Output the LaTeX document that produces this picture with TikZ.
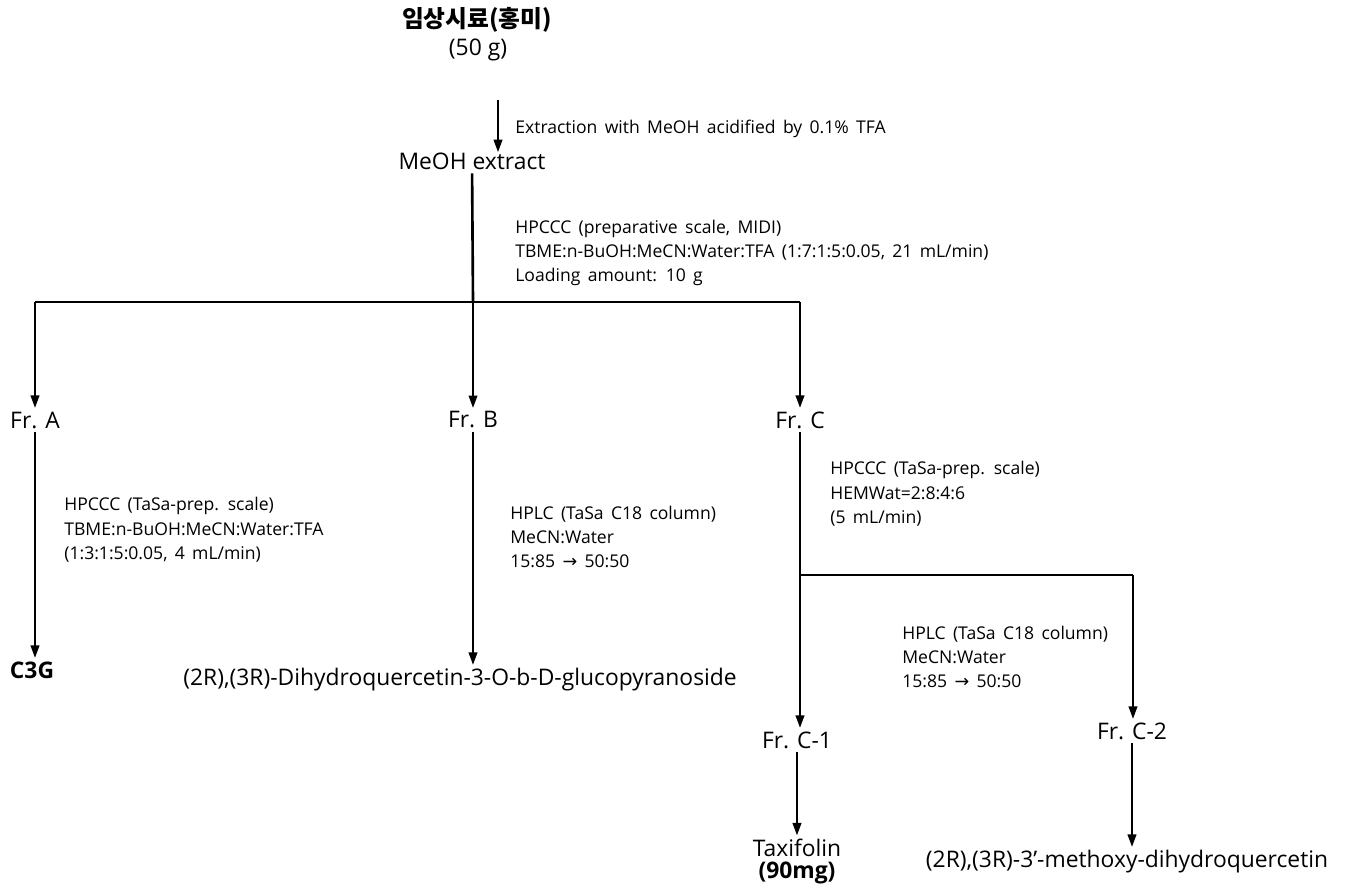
\documentclass[tikz,border=0pt]{standalone}
\usepackage{fontspec}
\setmainfont{Open Sans}
\newfontfamily\krfont{Noto Sans CJK KR}
\newfontfamily\notefont[WordSpace=1.6]{Open Sans}
\newfontfamily\symfont{DejaVu Sans}
\usetikzlibrary{arrows.meta, positioning}
\tikzstyle{frac} = [inner sep=2pt, font=\fontsize{13}{15}\selectfont]
\tikzstyle{note} = [inner sep=0pt, anchor=west, align=left, font=\notefont\fontsize{10}{13.9}\selectfont]
\tikzstyle{arrow} = [line width=0.75pt, -{Triangle[length=7pt,width=5pt]}]
\tikzstyle{branch} = [line width=0.75pt]
\tikzstyle{trunk} = [line width=1.5pt]

\begin{document}
\begin{tikzpicture}[x=0.02cm, y=-0.02cm]
    \useasboundingbox (0,0) rectangle (1349,893);

    % Starting material
    \node (sample) [frac] at (477,20) {\krfont\bfseries\fontsize{13.5}{16}\selectfont 임상시료(홍미)};
    \node (amount) [frac] at (478,50) {(50 g)};
    \node (extract) [frac] at (472,161) {MeOH extract};

    % Junctions
    \coordinate (exttop) at (498,100);
    \coordinate (extend) at (498,152);
    \coordinate (split) at (473,302);
    \coordinate (splitA) at (35,302);
    \coordinate (splitC) at (800,302);
    \coordinate (splitC1) at (800,575);
    \coordinate (splitC2) at (1133,575);

    % Fractions
    \node (frA) [frac] at (35,420) {Fr. A};
    \node (frB) [frac] at (473,420) {Fr. B};
    \node (frC) [frac] at (800,420) {Fr. C};
    \node (frC1) [frac] at (797,740) {Fr. C-1};
    \node (frC2) [frac] at (1132,731) {Fr. C-2};

    % Compounds
    \node (c3g) [frac, font=\fontsize{13}{15}\selectfont\bfseries] at (32,670) {C3G};
    \node (glyco) [frac] at (460,680) {(2R),(3R)-Dihydroquercetin-3-O-b-D-glucopyranoside};
    \node (taxi) [frac] at (797,848) {Taxifolin};
    \node (taximass) [frac, font=\fontsize{13}{15}\selectfont\bfseries] at (797,873) {(90mg)};
    \node (methoxy) [frac] at (1127,862) {(2R),(3R)-3’-methoxy-dihydroquercetin};

    % Conditions
    \node (extnote) [note] at (515,129) {Extraction with MeOH acidified by 0.1\% TFA};
    \node (midinote) [note] at (515,253) {HPCCC (preparative scale, MIDI)\\TBME:n-BuOH:MeCN:Water:TFA (1:7:1:5:0.05, 21 mL/min)\\Loading amount: 10 g};
    \node (notA) [note] at (64,530) {HPCCC (TaSa-prep. scale)\\TBME:n-BuOH:MeCN:Water:TFA\\(1:3:1:5:0.05, 4 mL/min)};
    \node (notB) [note] at (510,537) {HPLC (TaSa C18 column)\\MeCN:Water\\15:85 {\symfont →} 50:50};
    \node (notC) [note] at (830,494) {HPCCC (TaSa-prep. scale)\\HEMWat=2:8:4:6\\(5 mL/min)};
    \node (notC2) [note] at (902,657) {HPLC (TaSa C18 column)\\MeCN:Water\\15:85 {\symfont →} 50:50};

    % Flow
    \draw [arrow] (exttop) -- (extend);
    \draw [trunk] (extract) -- (split);
    \draw [branch] (splitA) -- (splitC);
    \draw [arrow] (splitA) -- (frA);
    \draw [arrow] (split) -- (frB);
    \draw [arrow] (splitC) -- (frC);
    \draw [arrow] (frA) -- (frA |- c3g.north);
    \draw [arrow] (frB) -- (frB |- glyco.north);
    \draw [branch] (frC) -- (splitC1) -- (splitC2);
    \draw [arrow] (splitC1) -- (splitC1 |- frC1.north);
    \draw [arrow] (splitC2) -- (splitC2 |- frC2.north);
    \draw [arrow] (frC1) -- (frC1 |- taxi.north);
    \draw [arrow] (frC2) -- (frC2 |- methoxy.north);

\end{tikzpicture}
\end{document}
